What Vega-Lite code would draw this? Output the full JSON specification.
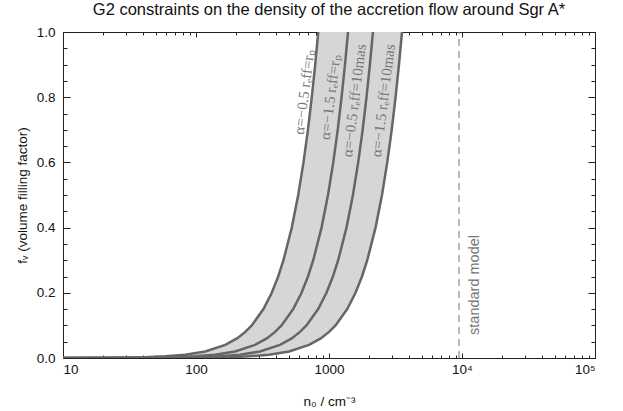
{
  "$schema": "https://vega.github.io/schema/vega-lite/v6.json",
  "width": 532,
  "height": 326,
  "autosize": "none",
  "padding": {"left": 63, "top": 32, "right": 28, "bottom": 53},
  "background": "white",
  "config": {
    "view": {"stroke": "#222", "strokeWidth": 1},
    "font": "Liberation Sans",
    "axis": {"grid": false, "domain": false, "tickColor": "#222222", "tickWidth": 1, "zindex": 1, "labelFont": "Liberation Sans", "labelFontSize": 13.5, "labelColor": "#111", "titleFont": "Liberation Sans", "titleFontSize": 13.5, "titleFontWeight": "normal", "titleColor": "#111"}
  },
  "title": {"text": "G2 constraints on the density of the accretion flow around Sgr A*", "fontSize": 16.5, "fontWeight": "normal", "font": "Liberation Sans", "color": "#111", "offset": 7, "anchor": "middle"},
  "datasets": {
    "band": [
      {"f": 0.000008, "lo": 2.35, "hi": 10},
      {"f": 0.0001, "lo": 8.3, "hi": 35.4},
      {"f": 0.0004, "lo": 16.6, "hi": 70.8},
      {"f": 0.001, "lo": 26.2, "hi": 111.9},
      {"f": 0.0025, "lo": 41.5, "hi": 177},
      {"f": 0.005, "lo": 58.7, "hi": 250.3},
      {"f": 0.01, "lo": 83, "hi": 354},
      {"f": 0.02, "lo": 117.4, "hi": 500.6},
      {"f": 0.04, "lo": 166, "hi": 708},
      {"f": 0.06, "lo": 203.3, "hi": 867.1},
      {"f": 0.08, "lo": 234.8, "hi": 1001.3},
      {"f": 0.1, "lo": 262.5, "hi": 1119.5},
      {"f": 0.15, "lo": 321.5, "hi": 1371},
      {"f": 0.2, "lo": 371.2, "hi": 1583.1},
      {"f": 0.25, "lo": 415, "hi": 1770},
      {"f": 0.3, "lo": 454.6, "hi": 1938.9},
      {"f": 0.4, "lo": 524.9, "hi": 2238.9},
      {"f": 0.5, "lo": 586.9, "hi": 2503.2},
      {"f": 0.6, "lo": 642.9, "hi": 2742.1},
      {"f": 0.7, "lo": 694.4, "hi": 2961.8},
      {"f": 0.8, "lo": 742.4, "hi": 3166.3},
      {"f": 0.9, "lo": 787.4, "hi": 3358.4},
      {"f": 1.0, "lo": 830, "hi": 3540}
    ],
    "curves": [
      {"curve": "c1", "n": 10, "f": 0.000145},
      {"curve": "c1", "n": 16.6, "f": 0.0004},
      {"curve": "c1", "n": 26.2, "f": 0.001},
      {"curve": "c1", "n": 41.5, "f": 0.0025},
      {"curve": "c1", "n": 58.7, "f": 0.005},
      {"curve": "c1", "n": 83, "f": 0.01},
      {"curve": "c1", "n": 117.4, "f": 0.02},
      {"curve": "c1", "n": 166, "f": 0.04},
      {"curve": "c1", "n": 203.3, "f": 0.06},
      {"curve": "c1", "n": 234.8, "f": 0.08},
      {"curve": "c1", "n": 262.5, "f": 0.1},
      {"curve": "c1", "n": 321.5, "f": 0.15},
      {"curve": "c1", "n": 371.2, "f": 0.2},
      {"curve": "c1", "n": 415, "f": 0.25},
      {"curve": "c1", "n": 454.6, "f": 0.3},
      {"curve": "c1", "n": 524.9, "f": 0.4},
      {"curve": "c1", "n": 586.9, "f": 0.5},
      {"curve": "c1", "n": 642.9, "f": 0.6},
      {"curve": "c1", "n": 694.4, "f": 0.7},
      {"curve": "c1", "n": 742.4, "f": 0.8},
      {"curve": "c1", "n": 787.4, "f": 0.9},
      {"curve": "c1", "n": 830, "f": 1.0},
      {"curve": "c2", "n": 10, "f": 0.0000518},
      {"curve": "c2", "n": 13.9, "f": 0.0001},
      {"curve": "c2", "n": 27.8, "f": 0.0004},
      {"curve": "c2", "n": 44.0, "f": 0.001},
      {"curve": "c2", "n": 69.5, "f": 0.0025},
      {"curve": "c2", "n": 98.3, "f": 0.005},
      {"curve": "c2", "n": 139, "f": 0.01},
      {"curve": "c2", "n": 196.6, "f": 0.02},
      {"curve": "c2", "n": 278, "f": 0.04},
      {"curve": "c2", "n": 340.5, "f": 0.06},
      {"curve": "c2", "n": 393.1, "f": 0.08},
      {"curve": "c2", "n": 439.6, "f": 0.1},
      {"curve": "c2", "n": 538.3, "f": 0.15},
      {"curve": "c2", "n": 621.6, "f": 0.2},
      {"curve": "c2", "n": 695, "f": 0.25},
      {"curve": "c2", "n": 761.3, "f": 0.3},
      {"curve": "c2", "n": 879.1, "f": 0.4},
      {"curve": "c2", "n": 982.9, "f": 0.5},
      {"curve": "c2", "n": 1076.7, "f": 0.6},
      {"curve": "c2", "n": 1163.0, "f": 0.7},
      {"curve": "c2", "n": 1243.3, "f": 0.8},
      {"curve": "c2", "n": 1318.7, "f": 0.9},
      {"curve": "c2", "n": 1390, "f": 1.0},
      {"curve": "c3", "n": 10, "f": 0.0000218},
      {"curve": "c3", "n": 21.4, "f": 0.0001},
      {"curve": "c3", "n": 42.8, "f": 0.0004},
      {"curve": "c3", "n": 67.7, "f": 0.001},
      {"curve": "c3", "n": 107, "f": 0.0025},
      {"curve": "c3", "n": 151.3, "f": 0.005},
      {"curve": "c3", "n": 214, "f": 0.01},
      {"curve": "c3", "n": 302.6, "f": 0.02},
      {"curve": "c3", "n": 428, "f": 0.04},
      {"curve": "c3", "n": 524.2, "f": 0.06},
      {"curve": "c3", "n": 605.3, "f": 0.08},
      {"curve": "c3", "n": 676.7, "f": 0.1},
      {"curve": "c3", "n": 828.8, "f": 0.15},
      {"curve": "c3", "n": 957.0, "f": 0.2},
      {"curve": "c3", "n": 1070, "f": 0.25},
      {"curve": "c3", "n": 1172.1, "f": 0.3},
      {"curve": "c3", "n": 1353.5, "f": 0.4},
      {"curve": "c3", "n": 1513.2, "f": 0.5},
      {"curve": "c3", "n": 1657.6, "f": 0.6},
      {"curve": "c3", "n": 1790.5, "f": 0.7},
      {"curve": "c3", "n": 1914.1, "f": 0.8},
      {"curve": "c3", "n": 2030.2, "f": 0.9},
      {"curve": "c3", "n": 2140, "f": 1.0},
      {"curve": "c4", "n": 10, "f": 0.000008},
      {"curve": "c4", "n": 35.4, "f": 0.0001},
      {"curve": "c4", "n": 70.8, "f": 0.0004},
      {"curve": "c4", "n": 111.9, "f": 0.001},
      {"curve": "c4", "n": 177, "f": 0.0025},
      {"curve": "c4", "n": 250.3, "f": 0.005},
      {"curve": "c4", "n": 354, "f": 0.01},
      {"curve": "c4", "n": 500.6, "f": 0.02},
      {"curve": "c4", "n": 708, "f": 0.04},
      {"curve": "c4", "n": 867.1, "f": 0.06},
      {"curve": "c4", "n": 1001.3, "f": 0.08},
      {"curve": "c4", "n": 1119.5, "f": 0.1},
      {"curve": "c4", "n": 1371.0, "f": 0.15},
      {"curve": "c4", "n": 1583.1, "f": 0.2},
      {"curve": "c4", "n": 1770, "f": 0.25},
      {"curve": "c4", "n": 1938.9, "f": 0.3},
      {"curve": "c4", "n": 2238.9, "f": 0.4},
      {"curve": "c4", "n": 2503.2, "f": 0.5},
      {"curve": "c4", "n": 2742.1, "f": 0.6},
      {"curve": "c4", "n": 2961.8, "f": 0.7},
      {"curve": "c4", "n": 3166.3, "f": 0.8},
      {"curve": "c4", "n": 3358.4, "f": 0.9},
      {"curve": "c4", "n": 3540, "f": 1.0}
    ],
    "labels": [
      {"text": "α=−0.5  rₑff=rₚ", "n": 649, "f": 0.816},
      {"text": "α=−1.5  rₑff=rₚ", "n": 1018, "f": 0.80},
      {"text": "α=−0.5  rₑff=10mas", "n": 1542, "f": 0.79},
      {"text": "α=−1.5  rₑff=10mas", "n": 2546, "f": 0.79}
    ],
    "std": [{"n": 9500, "f0": 0, "f1": 1}],
    "stdlabel": [{"text": "standard model", "n": 12500, "f": 0.224}]
  },
  "resolve": {"axis": {"x": "independent", "y": "independent"}},
  "layer": [
    {
      "data": {"name": "band"},
      "mark": {"type": "area", "orient": "horizontal", "color": "#d6d6d6", "opacity": 1, "clip": true},
      "encoding": {
        "y": {"field": "f", "type": "quantitative", "scale": {"domain": [0, 1], "nice": false, "zero": false},
          "axis": {"orient": "left", "values": [0, 0.2, 0.4, 0.6, 0.8, 1.0], "format": ".1f", "ticks": false, "labelPadding": 8, "title": "fᵥ (volume filling factor)", "titleX": -41, "titleY": 163, "titleAngle": 270, "titleAlign": "center", "titleBaseline": "middle"}},
        "x": {"field": "lo", "type": "quantitative", "scale": {"type": "log", "domain": [10, 100000], "nice": false},
          "axis": {"orient": "bottom", "values": [10, 100, 1000, 10000, 100000], "ticks": false, "labelPadding": 4, "labelExpr": "datum.value == 10 ? '10' : datum.value == 100 ? '100' : datum.value == 1000 ? '1000' : datum.value == 10000 ? '10⁴' : '10⁵'", "title": "n₀ / cm⁻³", "titlePadding": 19}},
        "x2": {"field": "hi"}
      }
    },
    {
      "data": {"name": "std"},
      "mark": {"type": "rule", "color": "#8c8c8c", "strokeWidth": 1.2, "strokeDash": [7, 5]},
      "encoding": {
        "x": {"field": "n", "type": "quantitative", "scale": {"type": "log", "domain": [10, 100000], "nice": false},
          "axis": {"orient": "top", "offset": -326, "values": [10, 100, 1000, 10000, 100000], "tickSize": 5, "labels": false, "title": null}},
        "y": {"field": "f0", "type": "quantitative", "scale": {"domain": [0, 1], "nice": false, "zero": false},
          "axis": {"orient": "right", "offset": -532, "values": [0, 0.2, 0.4, 0.6, 0.8, 1.0], "tickSize": 7, "labels": false, "title": null}},
        "y2": {"field": "f1"}
      }
    },
    {
      "data": {"name": "curves"},
      "mark": {"type": "line", "color": "#666666", "strokeWidth": 2.5, "clip": true},
      "encoding": {
        "x": {"field": "n", "type": "quantitative", "scale": {"type": "log", "domain": [10, 100000], "nice": false},
          "axis": {"orient": "top", "offset": -326, "values": [20,30,40,50,60,70,80,90,200,300,400,500,600,700,800,900,2000,3000,4000,5000,6000,7000,8000,9000,20000,30000,40000,50000,60000,70000,80000,90000], "tickSize": 3, "labels": false, "title": null}},
        "y": {"field": "f", "type": "quantitative", "scale": {"domain": [0, 1], "nice": false, "zero": false},
          "axis": {"orient": "right", "offset": -532, "values": [0.05,0.1,0.15,0.25,0.3,0.35,0.45,0.5,0.55,0.65,0.7,0.75,0.85,0.9,0.95], "tickSize": 4, "labels": false, "title": null}},
        "detail": {"field": "curve"},
        "order": {"field": "f", "type": "quantitative"}
      }
    },
    {
      "data": {"name": "labels"},
      "mark": {"type": "text", "angle": 277, "font": "Liberation Serif", "fontSize": 15, "color": "#777777", "align": "center", "baseline": "middle"},
      "encoding": {
        "x": {"field": "n", "type": "quantitative", "scale": {"type": "log", "domain": [10, 100000], "nice": false},
          "axis": {"orient": "bottom", "offset": -326, "values": [10, 100, 1000, 10000, 100000], "tickSize": 5, "labels": false, "title": null}},
        "y": {"field": "f", "type": "quantitative", "scale": {"domain": [0, 1], "nice": false, "zero": false},
          "axis": {"orient": "left", "offset": -532, "values": [0, 0.2, 0.4, 0.6, 0.8, 1.0], "tickSize": 7, "labels": false, "title": null}},
        "text": {"field": "text"}
      }
    },
    {
      "data": {"name": "stdlabel"},
      "mark": {"type": "text", "angle": 270, "font": "Liberation Sans", "fontSize": 14.5, "color": "#777777", "align": "center", "baseline": "middle"},
      "encoding": {
        "x": {"field": "n", "type": "quantitative", "scale": {"type": "log", "domain": [10, 100000], "nice": false},
          "axis": {"orient": "bottom", "offset": -326, "values": [20,30,40,50,60,70,80,90,200,300,400,500,600,700,800,900,2000,3000,4000,5000,6000,7000,8000,9000,20000,30000,40000,50000,60000,70000,80000,90000], "tickSize": 3, "labels": false, "title": null}},
        "y": {"field": "f", "type": "quantitative", "scale": {"domain": [0, 1], "nice": false, "zero": false},
          "axis": {"orient": "left", "offset": -532, "values": [0.05,0.1,0.15,0.25,0.3,0.35,0.45,0.5,0.55,0.65,0.7,0.75,0.85,0.9,0.95], "tickSize": 4, "labels": false, "title": null}},
        "text": {"field": "text"}
      }
    }
  ]
}
